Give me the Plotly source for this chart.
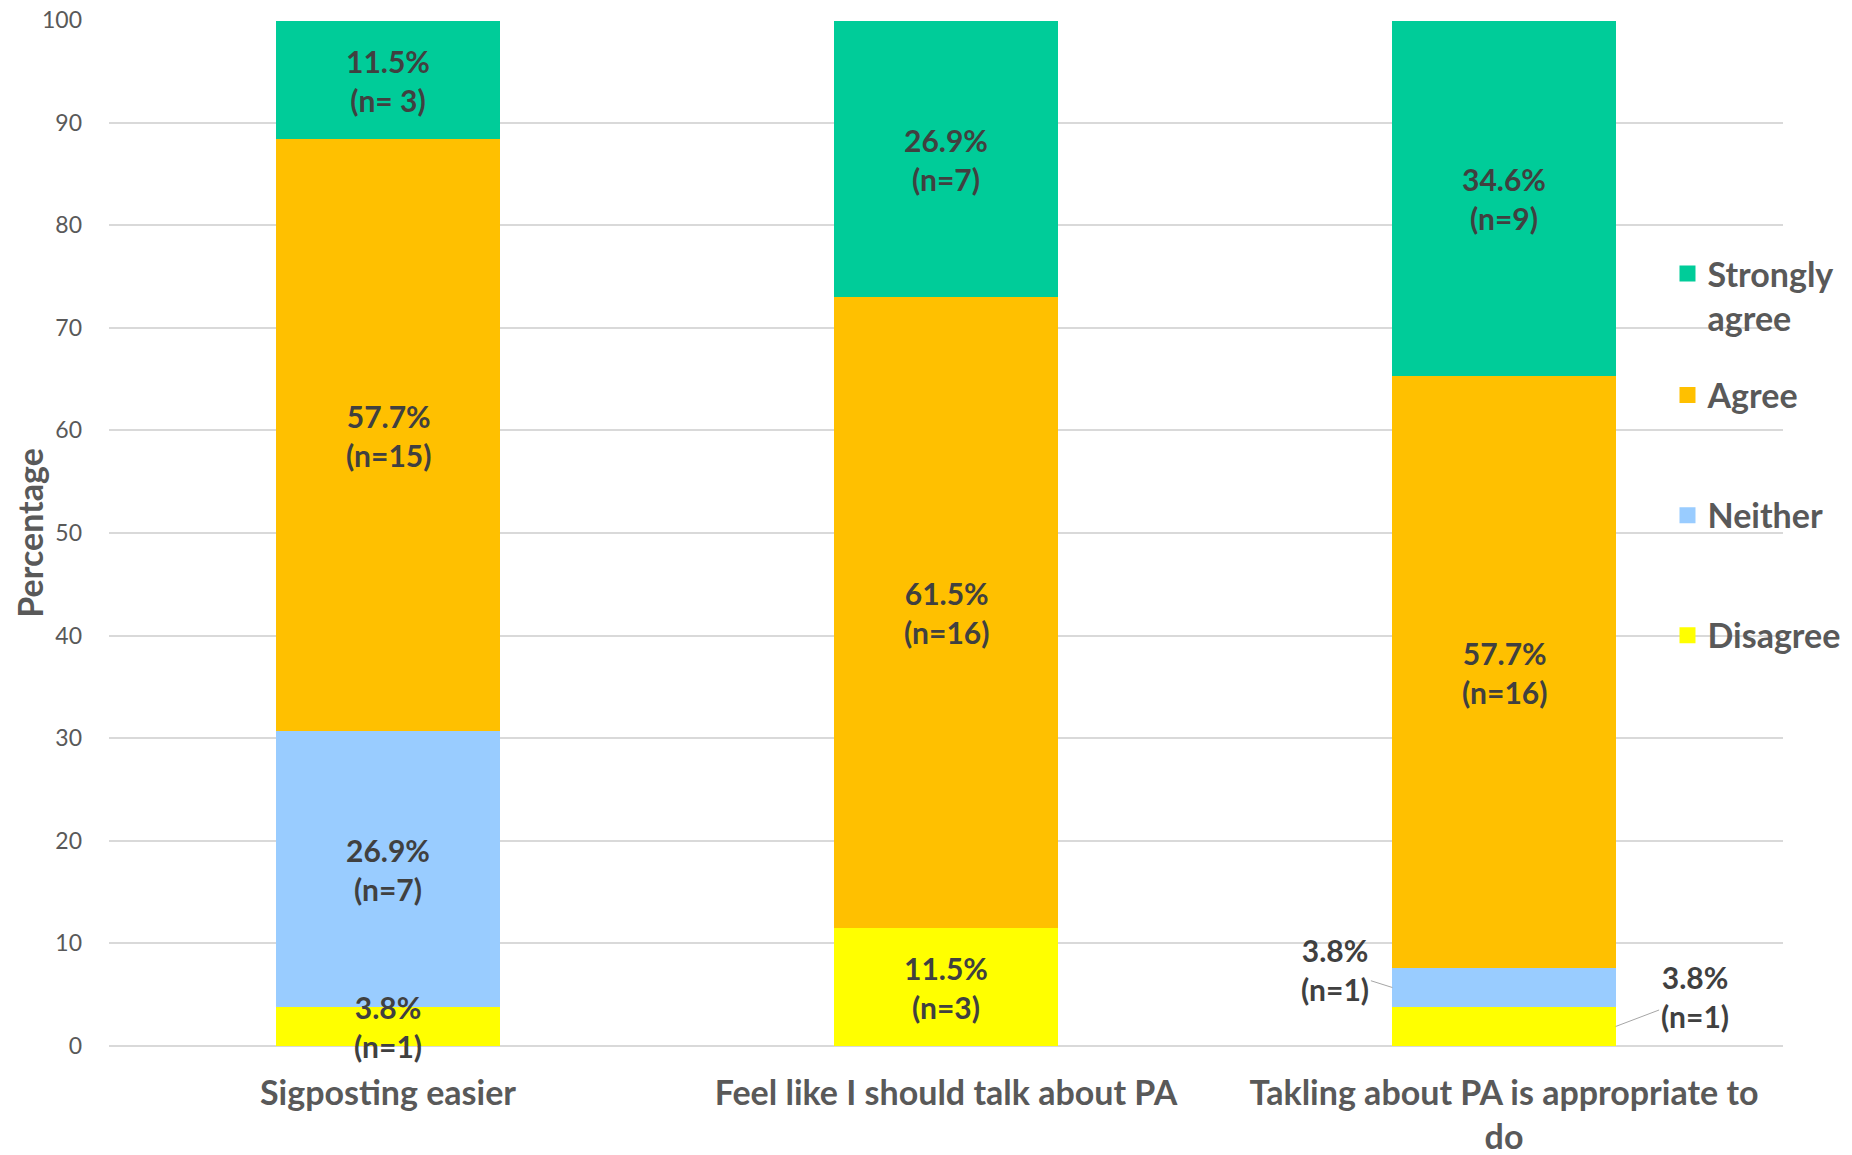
import plotly.graph_objects as go

categories = ["Sigposting easier", "Feel like I should talk about PA", "Takling about PA is appropriate to<br>do"]
series_names = ["Disagree", "Neither", "Agree", "Strongly<br>agree"]
disagree = [3.8, 11.5, 3.8]
neither = [26.9, 0, 3.8]
agree = [57.7, 61.5, 57.7]
strongly_agree = [11.5, 26.9, 34.6]
n_disagree = ["n=1", "n=3", "n=1"]
n_neither = ["n=7", "", "n=1"]
n_agree = ["n=15", "n=16", "n=16"]
n_strongly = ["n= 3", "n=7", "n=9"]
y_ticks = [0, 10, 20, 30, 40, 50, 60, 70, 80, 90, 100]

colors = ["#FFFF00", "#99CCFF", "#FFC000", "#00CC99"]
FONT = "Lato"
LABEL_COLOR = "#404040"
TEXT_COLOR = "#595959"
BAR_WIDTH = 0.4
LABEL_SIZE = 30

series = [disagree, neither, agree, strongly_agree]
counts = [n_disagree, n_neither, n_agree, n_strongly]
legend_ids = ["legend4", "legend3", "legend2", "legend"]
legend_y = [0.400, 0.517, 0.634, 0.731]

fig = go.Figure()
for name, vals, col, lid in zip(series_names, series, colors, legend_ids):
    fig.add_trace(go.Bar(
        x=categories, y=vals, name=name, marker=dict(color=col, line=dict(width=0)),
        width=BAR_WIDTH, legendgroup=name, showlegend=False,
    ))
    fig.add_trace(go.Scatter(
        x=[None], y=[None], mode="markers", name=name, legendgroup=name, legend=lid,
        marker=dict(symbol="square", size=16, color=col), showlegend=True,
    ))

annotations = []
for ci, cat in enumerate(categories):
    base = 0.0
    for si, (vals, ns) in enumerate(zip(series, counts)):
        v = vals[ci]
        if v > 0:
            text = f"<b>{v}%<br>({ns[ci]})</b>"
            mid = base + v / 2
            font = dict(family=FONT, size=LABEL_SIZE, color=LABEL_COLOR)
            if ci == 2 and si == 1:
                annotations.append(dict(
                    x=ci - BAR_WIDTH / 2, y=mid, xref="x", yref="y", text=text,
                    showarrow=True, arrowhead=0, arrowwidth=1, arrowcolor="#A6A6A6",
                    ax=-57, ay=-18, standoff=0, font=font))
            elif ci == 2 and si == 0:
                annotations.append(dict(
                    x=ci + BAR_WIDTH / 2, y=mid, xref="x", yref="y", text=text,
                    showarrow=True, arrowhead=0, arrowwidth=1, arrowcolor="#A6A6A6",
                    ax=79, ay=-30, standoff=0, font=font))
            else:
                annotations.append(dict(
                    x=cat, y=mid, xref="x", yref="y", text=text, showarrow=False,
                    font=font))
        base += v

annotations.append(dict(
    x=-0.048, y=0.5, xref="paper", yref="paper", text="<b>Percentage</b>", textangle=-90,
    showarrow=False, xanchor="center", yanchor="middle",
    font=dict(family=FONT, size=34, color=TEXT_COLOR)))

legend_font = dict(family=FONT, size=34, color=TEXT_COLOR, weight="bold")
layout_legends = {}
for lid, ly in zip(legend_ids, legend_y):
    layout_legends[lid] = dict(
        x=0.931, y=ly, xanchor="left", yanchor="middle", valign="top",
        bgcolor="rgba(0,0,0,0)", font=legend_font,
    )

fig.update_layout(
    barmode="stack",
    width=1852, height=1155,
    margin=dict(l=109, r=69, t=20, b=109, autoexpand=False),
    plot_bgcolor="white", paper_bgcolor="white",
    font=dict(family=FONT, color=TEXT_COLOR),
    annotations=annotations,
    showlegend=True,
    xaxis=dict(
        tickfont=dict(family=FONT, size=34, color=TEXT_COLOR, weight="bold"),
        showline=False, ticks="", ticklabelstandoff=24, automargin=False,
        ticklabeloverflow="allow",
    ),
    yaxis=dict(
        range=[0, 100], tickvals=y_ticks,
        tickfont=dict(family=FONT, size=23, color=TEXT_COLOR),
        showgrid=True, gridcolor="#D9D9D9", gridwidth=1.5,
        zeroline=True, zerolinecolor="#D9D9D9", zerolinewidth=1.5,
        ticklabelstandoff=26, automargin=False, ticklabeloverflow="allow",
    ),
    **layout_legends,
)

fig.write_html("out.html")
